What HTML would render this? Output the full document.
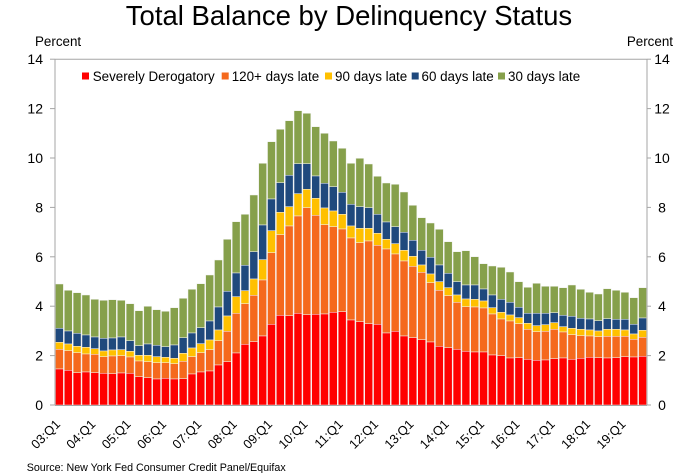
<!DOCTYPE html>
<html>
<head>
<meta charset="utf-8">
<style>
  html,body{margin:0;padding:0;background:#fff;}
  body{width:680px;height:473px;overflow:hidden;}
  svg{display:block;font-family:"Liberation Sans",Arial,sans-serif;}
</style>
</head>
<body>
<svg id="chart" width="680" height="473" viewBox="0 0 680 473" xmlns="http://www.w3.org/2000/svg">
  <rect x="0" y="0" width="680" height="473" fill="#fff"/>
  <!-- title -->
  <text x="349" y="25" font-size="27.5" text-anchor="middle" fill="#000">Total Balance by Delinquency Status</text>
  <!-- percent labels -->
  <text x="35" y="46" font-size="13.4" fill="#000">Percent</text>
  <text x="673" y="46" font-size="13.4" fill="#000" text-anchor="end">Percent</text>

  <g id="bars"></g>

  <!-- plot frame -->
  <line x1="55" y1="59.2" x2="647" y2="59.2" stroke="#a6a6a6" stroke-width="1"/>
  <line x1="55" y1="59" x2="55" y2="405.5" stroke="#a6a6a6" stroke-width="1"/>
  <line x1="647" y1="59" x2="647" y2="405.5" stroke="#a6a6a6" stroke-width="1"/>
  <line x1="55" y1="405.5" x2="647" y2="405.5" stroke="#a6a6a6" stroke-width="1"/>

  <!-- ticks -->
  <g stroke="#a6a6a6" stroke-width="1">
    <line x1="50" y1="405" x2="55" y2="405"/>
    <line x1="50" y1="355.6" x2="55" y2="355.6"/>
    <line x1="50" y1="306.2" x2="55" y2="306.2"/>
    <line x1="50" y1="256.8" x2="55" y2="256.8"/>
    <line x1="50" y1="207.4" x2="55" y2="207.4"/>
    <line x1="50" y1="158" x2="55" y2="158"/>
    <line x1="50" y1="108.6" x2="55" y2="108.6"/>
    <line x1="50" y1="59.2" x2="55" y2="59.2"/>
    <line x1="647" y1="405" x2="651" y2="405"/>
    <line x1="647" y1="355.6" x2="651" y2="355.6"/>
    <line x1="647" y1="306.2" x2="651" y2="306.2"/>
    <line x1="647" y1="256.8" x2="651" y2="256.8"/>
    <line x1="647" y1="207.4" x2="651" y2="207.4"/>
    <line x1="647" y1="158" x2="651" y2="158"/>
    <line x1="647" y1="108.6" x2="651" y2="108.6"/>
    <line x1="647" y1="59.2" x2="651" y2="59.2"/>
  </g>
  <g font-size="14" fill="#000" text-anchor="end">
    <text x="43" y="410">0</text>
    <text x="43" y="360.6">2</text>
    <text x="43" y="311.2">4</text>
    <text x="43" y="261.8">6</text>
    <text x="43" y="212.4">8</text>
    <text x="43" y="163">10</text>
    <text x="43" y="113.6">12</text>
    <text x="43" y="64.2">14</text>
  </g>
  <g font-size="14" fill="#000" text-anchor="middle">
    <text x="662" y="410">0</text>
    <text x="662" y="360.6">2</text>
    <text x="662" y="311.2">4</text>
    <text x="662" y="261.8">6</text>
    <text x="662" y="212.4">8</text>
    <text x="662" y="163">10</text>
    <text x="662" y="113.6">12</text>
    <text x="662" y="64.2">14</text>
  </g>

  <!-- legend -->
  <g font-size="13.4" fill="#000">
    <rect x="82" y="72.5" width="7" height="7" fill="#ff0000"/>
    <text x="92.7" y="81">Severely Derogatory</text>
    <rect x="221.7" y="72.5" width="7" height="7" fill="#f5691d"/>
    <text x="231.7" y="81">120+ days late</text>
    <rect x="325" y="72.5" width="7" height="7" fill="#ffc000"/>
    <text x="335" y="81">90 days late</text>
    <rect x="411.7" y="72.5" width="7" height="7" fill="#1f497d"/>
    <text x="421.5" y="81">60 days late</text>
    <rect x="498" y="72.5" width="7" height="7" fill="#86a04b"/>
    <text x="508" y="81">30 days late</text>
  </g>

  <!-- x labels -->
  <g font-size="12.8" fill="#000" text-anchor="end">
    <text transform="translate(61,425) rotate(-45)">03:Q1</text>
    <text transform="translate(96.3,425) rotate(-45)">04:Q1</text>
    <text transform="translate(131.6,425) rotate(-45)">05:Q1</text>
    <text transform="translate(167,425) rotate(-45)">06:Q1</text>
    <text transform="translate(202.3,425) rotate(-45)">07:Q1</text>
    <text transform="translate(237.7,425) rotate(-45)">08:Q1</text>
    <text transform="translate(273,425) rotate(-45)">09:Q1</text>
    <text transform="translate(308.4,425) rotate(-45)">10:Q1</text>
    <text transform="translate(343.7,425) rotate(-45)">11:Q1</text>
    <text transform="translate(379,425) rotate(-45)">12:Q1</text>
    <text transform="translate(414.4,425) rotate(-45)">13:Q1</text>
    <text transform="translate(449.7,425) rotate(-45)">14:Q1</text>
    <text transform="translate(485.1,425) rotate(-45)">15:Q1</text>
    <text transform="translate(520.4,425) rotate(-45)">16:Q1</text>
    <text transform="translate(555.7,425) rotate(-45)">17:Q1</text>
    <text transform="translate(591.1,425) rotate(-45)">18:Q1</text>
    <text transform="translate(626.4,425) rotate(-45)">19:Q1</text>
  </g>

  <!-- source -->
  <text x="26.7" y="471" font-size="10.7" fill="#000">Source: New York Fed Consumer Credit Panel/Equifax</text>
</svg>
<script>
(function(){
  // tops in pixel y: [green, blue, yellow, orange, red]
  var d = [
  [284.0,328.3,342.3,349.3,369.0],[290.3,331.0,344.0,350.7,370.3],[292.7,333.3,346.3,352.7,372.7],[295.0,335.0,347.3,354.0,372.0],
  [299.3,337.0,348.7,354.3,372.7],[300.3,338.3,351.0,356.7,373.3],[299.7,338.0,350.0,356.0,373.7],[300.3,337.0,349.7,355.7,373.0],
  [303.7,340.7,351.3,357.0,373.3],[310.7,345.7,355.3,361.0,376.7],[306.3,344.0,355.3,361.7,377.7],[309.7,345.3,356.7,362.7,379.0],
  [311.3,346.7,357.3,362.7,378.3],[307.7,345.0,358.3,363.7,379.0],[298.3,337.7,353.3,361.3,378.7],[289.3,333.0,348.0,356.7,374.0],
  [283.7,327.7,343.7,352.7,372.0],[275.0,321.0,340.0,349.7,371.0],[260.0,307.0,330.0,340.7,365.0],[239.3,291.3,316.0,331.3,361.7],
  [221.7,273.0,296.7,313.3,353.0],[214.3,265.3,290.7,303.7,344.3],[195.0,251.7,279.0,295.3,341.7],[163.3,225.0,259.7,280.0,336.0],
  [141.7,199.0,230.7,252.7,324.3],[129.3,182.7,212.3,234.7,315.3],[120.7,175.3,206.7,226.0,315.7],[110.7,163.7,193.7,216.0,313.3],
  [113.3,163.7,189.3,207.7,314.7],[126.7,176.0,198.3,215.3,314.3],[133.3,183.3,208.0,224.7,314.0],[141.0,186.7,211.0,226.7,312.3],
  [148.3,192.3,214.3,229.0,311.7],[163.3,204.3,226.0,238.0,320.0],[158.3,206.7,228.3,242.7,321.7],[164.0,207.7,228.3,241.0,323.7],
  [176.3,214.3,233.3,245.3,324.3],[183.0,222.0,239.3,249.0,333.0],[184.3,226.7,243.7,254.0,331.3],[192.0,232.3,250.3,261.0,336.0],
  [205.3,240.3,256.3,266.3,337.7],[217.7,250.3,265.0,272.3,339.7],[223.0,257.3,274.0,282.7,342.0],[229.3,265.0,281.7,290.3,346.3],
  [241.7,273.3,287.7,295.7,347.7],[251.7,281.7,295.0,302.3,349.3],[250.7,285.0,299.0,306.7,351.3],[256.7,285.0,299.3,307.0,352.0],
  [263.7,289.0,301.0,308.0,352.0],[266.0,295.0,307.7,314.0,355.0],[267.3,299.3,312.3,319.0,355.7],[272.0,302.3,315.0,321.0,358.0],
  [281.7,307.3,317.7,323.7,357.7],[287.3,313.3,323.3,329.3,359.3],[283.3,313.3,325.7,331.7,360.3],[286.3,313.3,324.7,331.3,360.0],
  [286.3,312.7,322.7,329.3,358.7],[287.7,315.3,326.7,332.0,358.0],[285.0,316.3,328.3,334.7,359.3],[289.3,318.3,329.3,335.7,358.3],
  [292.3,319.0,330.0,336.0,357.3],[294.0,320.7,331.0,336.7,357.7],[288.7,318.7,329.3,336.3,358.0],[290.3,319.3,329.3,336.3,357.7],
  [292.3,319.3,330.0,336.3,356.7],[297.7,324.3,334.0,339.3,357.0],[287.7,318.0,330.3,337.3,356.3]
  ];
  var colors = ["#86a04b","#1f497d","#ffc000","#f5691d","#ff0000"];
  var g = document.getElementById("bars");
  var w = 592/67, base = 405;
  var html = "";
  for (var i=0;i<d.length;i++){
    var x = 55 + i*w;
    var t = d[i];
    for (var k=0;k<5;k++){
      var top = t[k];
      var bot = (k<4) ? t[k+1] : base;
      html += '<rect x="'+(x+0.45).toFixed(2)+'" y="'+top.toFixed(2)+'" width="'+(w-0.9).toFixed(2)+'" height="'+(bot-top).toFixed(2)+'" fill="'+colors[k]+'" stroke="#f2f2f2" stroke-width="0.5"/>';
    }
  }
  g.innerHTML = html;
})();
</script>
</body>
</html>
